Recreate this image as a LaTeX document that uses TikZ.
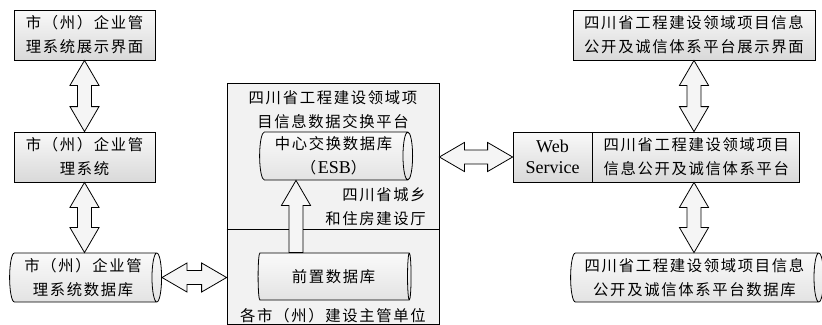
\documentclass[tikz,border=0pt]{standalone}
\usepackage{fontspec}
\setmainfont{Liberation Serif}
\newfontfamily\cjk[LetterSpace=11]{Noto Sans CJK SC}
\usetikzlibrary{calc,shapes.geometric}
\newcommand\boxFill{gray!10}
\newcommand\arrowFill{gray!8}
\newcommand\headLen{18.75pt}
\newcommand\headHalf{10.9pt}
\newcommand\shaftHalf{5.2pt}

\tikzset{
    cn/.style={font=\cjk\fontsize{11.5}{18}\selectfont, align=center, inner sep=0pt},
    sysbox/.style={cn, draw, line width=0.6pt, top color=gray!5, bottom color=gray!30, minimum height=37.5pt},
    % cylinder: minimum width is the diameter, minimum height the length
    dbase/.style={cn, cylinder, draw, line width=0.6pt, aspect=0.25, top color=gray!4, bottom color=gray!22, minimum width=36.75pt},
    fat/.style={draw, line width=0.6pt, fill=\arrowFill, line join=miter,
        to path={
            ($(\tikztostart)!\headLen!(\tikztotarget)$) coordinate (ha)
            ($(\tikztotarget)!\headLen!(\tikztostart)$) coordinate (hb)
            (\tikztostart) -- ($(ha)!\headHalf!90:(\tikztotarget)$)
            -- ($(ha)!\shaftHalf!90:(\tikztotarget)$)
            -- ($(hb)!\shaftHalf!-90:(\tikztostart)$)
            -- ($(hb)!\headHalf!-90:(\tikztostart)$)
            -- (\tikztotarget)
            -- ($(hb)!\headHalf!90:(\tikztostart)$)
            -- ($(hb)!\shaftHalf!90:(\tikztostart)$)
            -- ($(ha)!\shaftHalf!-90:(\tikztotarget)$)
            -- ($(ha)!\headHalf!-90:(\tikztotarget)$)
            -- cycle}},
    fatup/.style={draw, line width=0.6pt, fill=\arrowFill, line join=miter,
        to path={
            ($(\tikztotarget)!\headLen!(\tikztostart)$) coordinate (hb)
            ($(\tikztostart)!\shaftHalf!-90:(\tikztotarget)$)
            -- ($(hb)!\shaftHalf!90:(\tikztostart)$)
            -- ($(hb)!\headHalf!90:(\tikztostart)$)
            -- (\tikztotarget)
            -- ($(hb)!\headHalf!-90:(\tikztostart)$)
            -- ($(hb)!\shaftHalf!-90:(\tikztostart)$)
            -- ($(\tikztostart)!\shaftHalf!90:(\tikztotarget)$)
            -- cycle}}
}

\begin{document}
\begin{tikzpicture}[x=0.75pt, y=-0.75pt]
    \useasboundingbox (0,0) rectangle (822,325);

    % city side
    \node[sysbox, minimum width=105.75pt] (lshow) at (84.5,35) {市（州）企业管\\理系统展示界面};
    \node[sysbox, minimum width=105.75pt] (lsys) at (84.5,157) {市（州）企业管\\理系统};
    \node[dbase, minimum height=114pt] (ldb) at (83,277.5) {市（州）企业管\\理系统数据库};

    % exchange platform
    \node[draw, line width=0.6pt, fill=\boxFill, minimum width=159pt, minimum height=180.75pt] (plat) at (333,203.5) {};
    \coordinate (sep) at (333,229);
    \draw[line width=0.6pt] (plat.west |- sep) -- (plat.east |- sep);
    \node[cn] (ptitle) at (333,110) {四川省工程建设领域项\\目信息数据交换平台};
    \node[dbase, minimum height=114.75pt, minimum width=36pt] (esb) at (333.5,156) {中心交换数据库\\（\textrm{\fontsize{13.5}{18}\selectfont ESB}）};
    \node[cn, align=right, anchor=east] (owner) at (426,207) {四川省城乡\\和住房建设厅};
    \node[dbase, minimum height=114.75pt, minimum width=35.25pt] (front) at (333.5,276.5) {前置数据库};
    \node[cn] (city) at (333,316) {各市（州）建设主管单位};
    \coordinate (upx) at (296,0);
    \draw[fatup] (front.north -| upx) to (esb.south -| upx);

    % province side
    \node[sysbox, minimum width=181.5pt] (rshow) at (694,35) {四川省工程建设领域项目信息\\公开及诚信体系平台展示界面};
    \node[sysbox, font=\fontsize{13.5}{15.5}\selectfont, minimum width=59.25pt] (ws) at (552.5,157) {Web\\Service};
    \node[sysbox, anchor=west, minimum width=155.25pt] (rsys) at (ws.east) {四川省工程建设领域项目\\信息公开及诚信体系平台};
    \node[dbase, minimum height=189.75pt] (rdb) at (694.5,277.5) {四川省工程建设领域项目信息\\公开及诚信体系平台数据库};

    % links
    \draw[fat] (lshow.south) to (lsys.north);
    \draw[fat] (lsys.south) to (lsys.south |- ldb.north);
    \draw[fat] (ldb.east) to (plat.west |- ldb.east);
    \draw[fat] (plat.east |- ws.west) to (ws.west);
    \draw[fat] (rshow.south) to (rshow.south |- rsys.north);
    \draw[fat] (rshow.south |- rsys.south) to (rshow.south |- rdb.north);
\end{tikzpicture}
\end{document}
